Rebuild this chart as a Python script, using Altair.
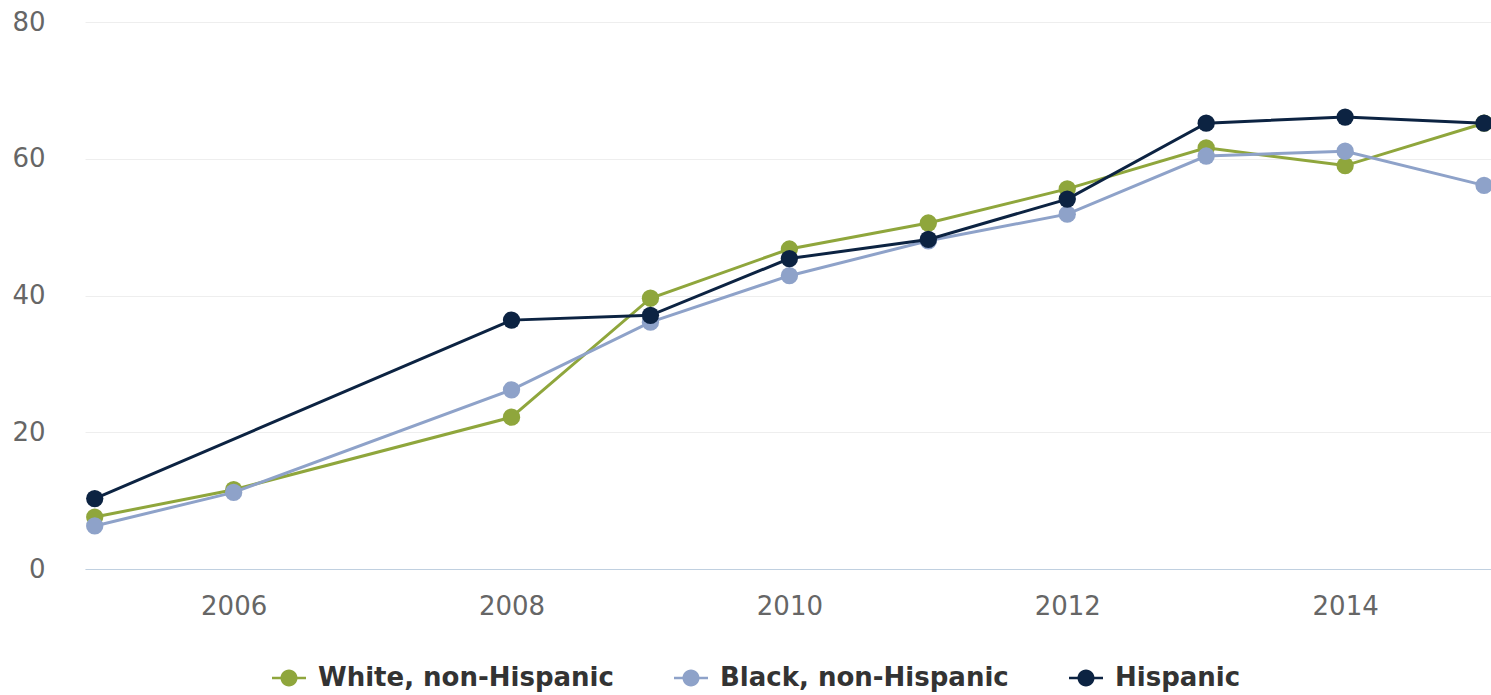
import altair as alt
import pandas as pd

# Share of each group (percent) by survey year; 2007 was not surveyed
years = [2005, 2006, 2008, 2009, 2010, 2011, 2012, 2013, 2014, 2015]
white = [7.6, 11.6, 22.2, 39.6, 46.8, 50.6, 55.6, 61.6, 59.0, 65.2]
black = [6.3, 11.2, 26.2, 36.1, 42.9, 48.0, 51.9, 60.4, 61.1, 56.1]
hispanic_years = [2005, 2008, 2009, 2010, 2011, 2012, 2013, 2014, 2015]
hispanic = [10.3, 36.4, 37.1, 45.4, 48.2, 54.1, 65.2, 66.1, 65.2]

series_names = ["White, non-Hispanic", "Black, non-Hispanic", "Hispanic"]
series_colors = ["#8fa63c", "#8ea2c9", "#0c2342"]

frames = [
    pd.DataFrame({"year": years, "value": white, "group": series_names[0]}),
    pd.DataFrame({"year": years, "value": black, "group": series_names[1]}),
    pd.DataFrame({"year": hispanic_years, "value": hispanic, "group": series_names[2]}),
]

color = alt.Color(
    "group:N",
    scale=alt.Scale(domain=series_names, range=series_colors),
    legend=alt.Legend(
        title=None,
        orient="none",
        direction="horizontal",
        legendX=187,
        legendY=639,
        symbolType="M-1,-0.08H1V0.08H-1Z M0.5,0A0.5,0.5,0,1,1,-0.5,0A0.5,0.5,0,1,1,0.5,0Z",
        symbolSize=1156,
        symbolStrokeWidth=0,
        symbolOpacity=1,
        labelFont="DejaVu Sans",
        labelFontWeight="bold",
        labelFontSize=26,
        labelColor="#333333",
        labelOffset=12,
        columnPadding=60,
        labelLimit=600,
    ),
)

x = alt.X(
    "year:Q",
    scale=alt.Scale(domain=[2004.93, 2015.05], nice=False, zero=False),
    axis=alt.Axis(
        title=None,
        values=[2006, 2008, 2010, 2012, 2014],
        format="d",
        grid=False,
        ticks=False,
        domainColor="#c0d0e0",
        domainWidth=1,
        labelPadding=24,
        labelFont="DejaVu Sans",
        labelFontSize=26,
        labelColor="#666666",
    ),
)

y = alt.Y(
    "value:Q",
    scale=alt.Scale(domain=[0, 80], nice=False),
    axis=alt.Axis(
        title=None,
        values=[0, 20, 40, 60, 80],
        domain=False,
        ticks=False,
        gridColor="#eeeeee",
        gridWidth=1,
        labelPadding=40,
        labelFont="DejaVu Sans",
        labelFontSize=26,
        labelColor="#666666",
    ),
)

layers = []
for df in frames:
    base = alt.Chart(df).encode(x=x, y=y, color=color)
    layers.append(base.mark_line(strokeWidth=3, clip=False))
    layers.append(base.mark_point(filled=True, size=300, opacity=1, clip=False))

chart = (
    alt.layer(*layers)
    .properties(
        width=1406,
        height=547,
        padding={"left": 85, "top": 22, "right": 0, "bottom": 126},
        autosize=alt.AutoSizeParams(type="none"),
        background="#ffffff",
    )
    .configure_view(stroke=None)
)

chart.save("out.html", embed_options={"renderer": "svg", "actions": False})
